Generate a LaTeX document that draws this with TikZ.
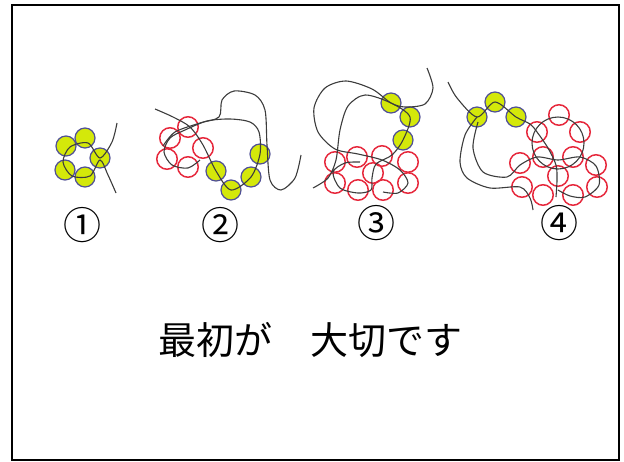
\documentclass[tikz,border=0pt]{standalone}
\usepackage{fontspec}
\newfontfamily\jpfont{Noto Sans CJK JP}
\definecolor{beadgreen}{RGB}{212,232,10}
\definecolor{beadline}{RGB}{80,80,150}
\definecolor{ringred}{RGB}{230,40,60}
\definecolor{threadgray}{RGB}{60,60,60}
\tikzset{
  bead/.style={circle,draw=beadline,fill=beadgreen,line width=1.2pt,minimum size=20pt,inner sep=0pt},
  ring/.style={circle,draw=ringred,line width=1.5pt,minimum size=20.5pt,inner sep=0pt},
  thread/.style={draw=threadgray,line width=1.1pt},
  numlabel/.style={font=\jpfont\fontsize{38}{38}\selectfont,inner sep=0pt}
}
\begin{document}
\begin{tikzpicture}[x=1pt,y=-1pt]
\useasboundingbox (0,0) rectangle (624,461);
\draw[line width=2pt] (11.5,5) rectangle (619,459.5);
% figure 1
\node[bead] (g11) at (66,146) {};
\node[bead] (g12) at (85,138) {};
\node[bead] (g13) at (100,158) {};
\node[bead] (g14) at (85,177) {};
\node[bead] (g15) at (65,170) {};
\draw[thread] plot[smooth] coordinates {(117,123) (112,142) (g13.center) (88,143) (70,147) (63,162) (72,176) (90,176) (100,160) (108,175) (116,193)};
% figure 2
\node[ring] (r21) at (170,138) {};
\node[ring] (r22) at (188,127) {};
\node[ring] (r23) at (203,148) {};
\node[ring] (r24) at (167,159) {};
\node[ring] (r25) at (188,167) {};
\node[bead] (g21) at (216,171) {};
\node[bead] (g22) at (231,190) {};
\node[bead] (g23) at (251,177) {};
\node[bead] (g24) at (260,154) {};
\draw[thread] plot[smooth] coordinates {(155,109) (173,117) (190,127) (203,145) (g21.center) (g22.center) (g23.center) (g24.center) (259,132) (250,122) (230,119) (207,121) (185,130) (170,138) (164,152) (172,165) (188,168) (200,160)};
\draw[thread] plot[smooth] coordinates {(163,146) (175,132) (200,123) (219,117) (222,100) (234,91) (255,95) (265,110) (267,145) (270,180) (281,190) (295,178) (301,155)};
% figure 3
\node[ring] (r31) at (335,162) {};
\node[ring] (r32) at (357,157) {};
\node[ring] (r33) at (382,156) {};
\node[ring] (r34) at (408,162) {};
\node[ring] (r35) at (373,173) {};
\node[ring] (r36) at (335,183) {};
\node[ring] (r37) at (358,190) {};
\node[ring] (r38) at (383,190) {};
\node[ring] (r39) at (408,183) {};
\node[bead] (g31) at (391,103) {};
\node[bead] (g32) at (410,117) {};
\node[bead] (g33) at (403,140) {};
\draw[thread] plot[smooth] coordinates {(427,68) (433,88) (425,104) (405,107) (g31.center) (372,89) (346,81) (325,88) (314,108) (318,132) (335,149) (358,154) (382,160) (400,170) (408,183) (398,193) (383,192)};
\draw[thread] plot[smooth] coordinates {(313,188) (328,178) (336,160) (340,130) (348,106) (365,95) (g31.center) (g32.center) (g33.center) (392,155) (376,164) (372,178) (371,190) (358,193) (340,188) (333,172) (345,163) (360,162)};
% figure 4
\node[ring] (r41) at (559,115) {};
\node[ring] (r42) at (537,132) {};
\node[ring] (r43) at (580,132) {};
\node[ring] (r44) at (543,157) {};
\node[ring] (r45) at (573,157) {};
\node[ring] (r46) at (520,163) {};
\node[ring] (r47) at (596,165) {};
\node[ring] (r48) at (558,176) {};
\node[ring] (r49) at (522,187) {};
\node[ring] (r410) at (543,195) {};
\node[ring] (r411) at (573,195) {};
\node[ring] (r412) at (597,187) {};
\node[bead] (g41) at (477,117) {};
\node[bead] (g42) at (495,102) {};
\node[bead] (g43) at (516,117) {};
\draw[thread] plot[smooth] coordinates {(448,82) (457,98) (g41.center) (g42.center) (g43.center) (530,124) (537,132) (548,148) (556,165) (557,180) (556,197)};
\draw[thread] (558,143) circle[radius=26];
\draw[thread] plot[smooth] coordinates {(g41.center) (465,135) (460,162) (467,178) (490,188) (520,187) (530,198) (533,210)};
\draw[thread] plot[smooth] coordinates {(478,122) (473,148) (483,172) (507,177) (520,165) (537,157) (558,160) (580,157) (596,166) (599,185) (585,197) (570,196) (558,190)};
% labels
\node[numlabel] (n1) at (82,225) {①};
\node[numlabel] (n2) at (220,225) {②};
\node[numlabel] (n3) at (376,223) {③};
\node[numlabel] (n4) at (559,223) {④};
\node[font=\jpfont\fontsize{38}{38}\selectfont] (title) at (310.5,340) {最初が　大切です};
\end{tikzpicture}
\end{document}
